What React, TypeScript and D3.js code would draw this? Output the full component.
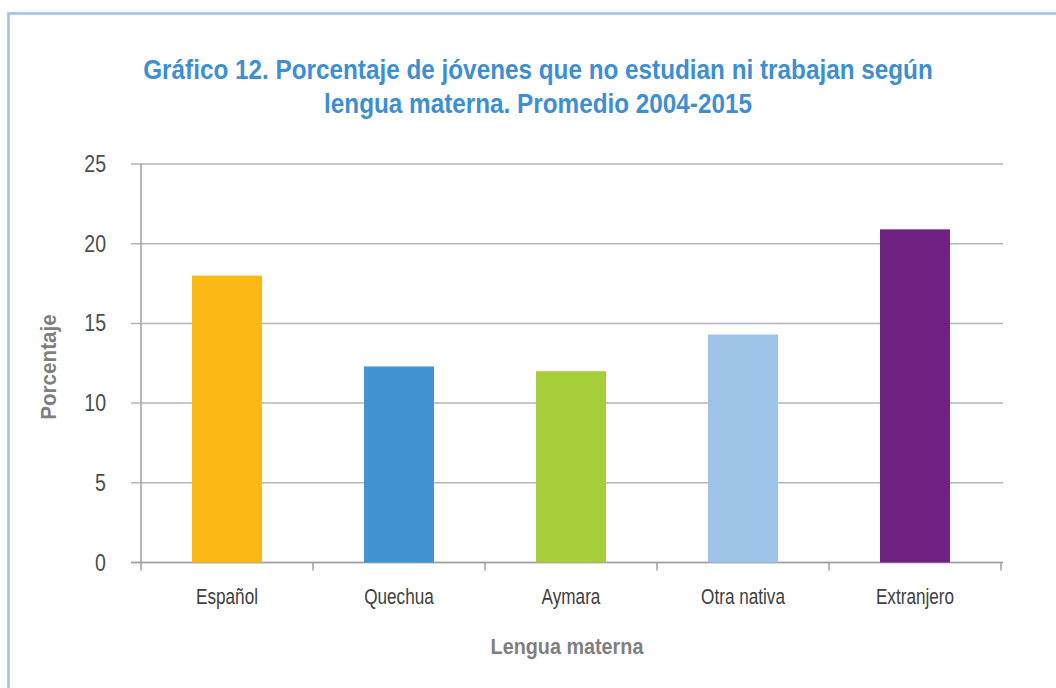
import * as d3 from "d3";

const categories = ["Español", "Quechua", "Aymara", "Otra nativa", "Extranjero"];
const values = [18.0, 12.3, 12.0, 14.3, 20.9];
const colors = ["#FDB913", "#4194D3", "#A6CE39", "#9DC3E6", "#6F2282"];
const yTicks = [0, 5, 10, 15, 20, 25];
const titleLines = [
  "Gráfico 12. Porcentaje de jóvenes que no estudian ni trabajan según",
  "lengua materna. Promedio 2004-2015",
];

const font = "'Liberation Sans', Arial, sans-serif";

// condensed look: squeeze a regular sans horizontally
function CText({ x, y, sx = 0.8, rotate = 0, children, ...rest }: any) {
  return (
    <g transform={`translate(${x},${y}) rotate(${rotate}) scale(${sx},1)`}>
      <text x={0} y={0} fontFamily={font} {...rest}>
        {children}
      </text>
    </g>
  );
}

export default function App() {
  const width = 1056;
  const height = 688;
  const left = 141;
  const right = 1001;
  const top = 164;
  const bottom = 562.5;

  const x = d3.scaleBand<string>().domain(categories).range([left, right]).paddingInner(0.593).paddingOuter(0.2965);
  const y = d3.scaleLinear().domain([0, 25]).range([bottom, top]);
  const step = x.step();
  const boundaries = d3.range(categories.length + 1).map((i) => left + i * step);

  return (
    <svg width={width} height={height} style={{ position: "absolute", left: 0, top: 0, background: "#fff" }}>
      <rect x={8.5} y={13.5} width={1100} height={700} fill="#fff" stroke="#9DC3E6" strokeWidth={2.5} />

      {titleLines.map((t, i) => (
        <CText key={i} x={538} y={79 + i * 34} sx={0.9} textAnchor="middle" fontWeight="bold" fontSize={27} fill="#3D8FD1">
          {t}
        </CText>
      ))}

      {yTicks.map((t) => (
        <g key={t}>
          <line x1={131} x2={1003} y1={y(t)} y2={y(t)} stroke="#B5B5B5" strokeWidth={1.5} />
          <CText x={106} y={y(t) + 8} sx={0.85} textAnchor="end" fontSize={23} fill="#4D4D4D">
            {t}
          </CText>
        </g>
      ))}

      <line x1={left} x2={left} y1={top} y2={bottom} stroke="#A0A0A0" strokeWidth={1.5} />
      <line x1={131} x2={1003} y1={bottom} y2={bottom} stroke="#A0A0A0" strokeWidth={1.5} />
      {boundaries.map((b, i) => (
        <line key={i} x1={b} x2={b} y1={bottom} y2={bottom + 8} stroke="#A0A0A0" strokeWidth={1.5} />
      ))}

      {categories.map((c, i) => (
        <g key={c}>
          <rect x={x(c)} y={y(values[i])} width={x.bandwidth()} height={bottom - y(values[i])} fill={colors[i]} />
          <CText x={(x(c) ?? 0) + x.bandwidth() / 2} y={604} sx={0.78} textAnchor="middle" fontSize={22} fill="#404040">
            {c}
          </CText>
        </g>
      ))}

      <CText x={567} y={654} sx={0.9} textAnchor="middle" fontWeight="bold" fontSize={22} fill="#7F7F7F">
        Lengua materna
      </CText>
      <CText x={56} y={367} rotate={-90} sx={0.94} textAnchor="middle" fontWeight="bold" fontSize={22} fill="#7F7F7F">
        Porcentaje
      </CText>
    </svg>
  );
}
